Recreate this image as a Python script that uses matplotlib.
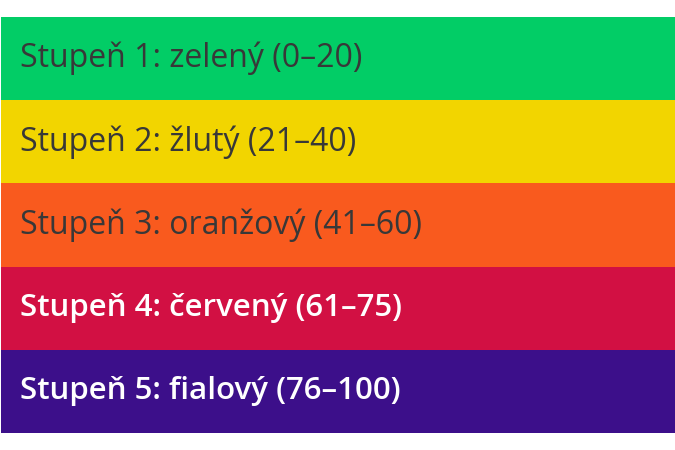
import matplotlib.pyplot as plt

# levels shown top to bottom
levels = ["Stupeň 1", "Stupeň 2", "Stupeň 3", "Stupeň 4", "Stupeň 5"]
names = ["zelený", "žlutý", "oranžový", "červený", "fialový"]
low = [0, 21, 41, 61, 76]
high = [20, 40, 60, 75, 100]
band_colors = ["#02cd66", "#f2d500", "#f95a1e", "#d21043", "#3c0f8a"]
text_colors = ["#383838", "#383838", "#383838", "#ffffff", "#ffffff"]
text_weights = ["normal", "normal", "normal", "semibold", "semibold"]
text_sizes = [23, 23, 23, 22.5, 22.5]

plt.rcParams['font.family'] = ['Open Sans', 'DejaVu Sans']

fig = plt.figure(figsize=(6.75, 4.5), dpi=100)
ax = fig.add_axes([0.0015, 17 / 450, 0.9985, 416 / 450])

ypos = list(range(len(levels)))
ax.barh(ypos, [1] * len(levels), height=1.0, color=band_colors, left=0)

for i in ypos:
    label = f"{levels[i]}: {names[i]} ({low[i]}–{high[i]})"
    ax.text(0.028, i, label, color=text_colors[i], fontsize=text_sizes[i],
            fontweight=text_weights[i], va='center', ha='left')

ax.set_xlim(0, 1)
ax.set_ylim(len(levels) - 0.5, -0.5)
ax.axis('off')

fig.savefig("out.png", dpi=100, facecolor="white")
